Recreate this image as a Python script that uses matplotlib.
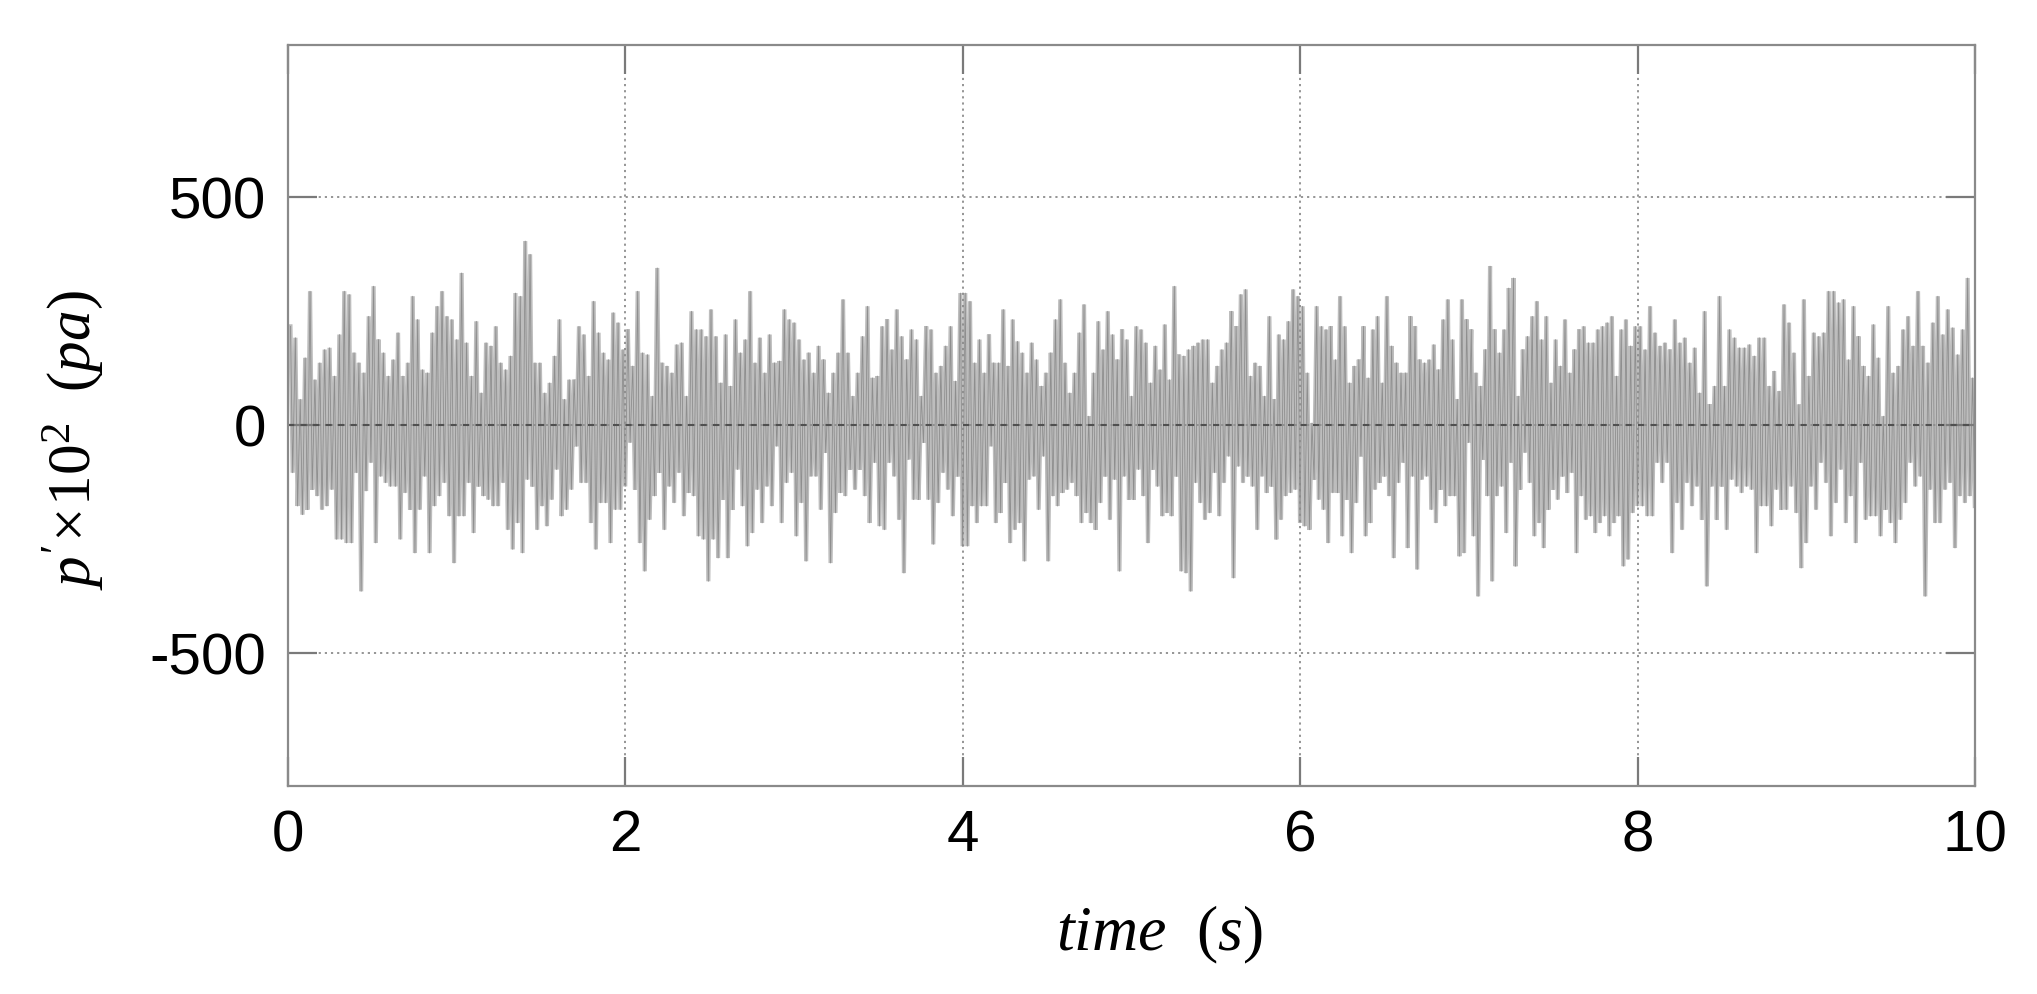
import matplotlib
matplotlib.use("Agg")
import matplotlib.pyplot as plt
import numpy as np

plt.rcParams["font.family"] = ["Liberation Sans", "DejaVu Sans"]
plt.rcParams["axes.unicode_minus"] = False
plt.rcParams["mathtext.fontset"] = "custom"
plt.rcParams["mathtext.rm"] = "Liberation Serif"
plt.rcParams["mathtext.it"] = "Liberation Serif:italic"

# peak / trough of each stroke, read per 2 s window (p' x 10^2, pa)
top_0_2 = [216, 191, 56, 147, 293, 99, 136, 165, 169, 107, 198, 293, 286, 158, 136, 114, 238, 304,
           187, 158, 107, 143, 202, 107, 136, 282, 231, 121, 114, 202, 260, 293, 238, 231, 187, 333,
           180, 107, 227, 70, 180, 173, 216, 136, 121, 151, 289, 282, 403, 374, 136, 136, 70, 92,
           151, 231, 56, 99, 99, 216, 198, 107, 271, 202, 158, 143, 246, 224, 165]
bot_0_2 = [-105, -178, -197, -186, -142, -156, -186, -178, -142, -251, -251, -259, -259, -105, -365,
           -145, -83, -259, -113, -127, -135, -135, -251, -149, -186, -281, -186, -113, -281, -178,
           -156, -127, -200, -303, -200, -200, -127, -237, -135, -156, -164, -178, -178, -127, -230,
           -273, -215, -281, -120, -135, -230, -178, -222, -164, -98, -200, -186, -142, -47, -127,
           -127, -215, -273, -171, -171, -259, -186, -186, -135]

top_2_4 = [209, 129, 293, 158, 154, 63, 344, 136, 129, 114, 176, 180, 63, 249, 209, 209, 194, 253,
           194, 92, 198, 85, 231, 158, 187, 293, 136, 191, 114, 198, 136, 140, 253, 231, 224, 187,
           143, 158, 114, 173, 143, 70, 114, 158, 275, 158, 63, 114, 194, 260, 103, 107, 216, 231,
           165, 253, 194, 143, 209, 187, 63, 216, 209, 114, 129, 173, 216, 96, 289]
bot_2_4 = [-39, -142, -259, -321, -208, -156, -105, -230, -135, -171, -105, -200, -149, -156, -244,
           -251, -343, -251, -292, -164, -292, -186, -98, -178, -266, -237, -142, -215, -135, -178,
           -47, -215, -127, -105, -244, -171, -299, -113, -113, -186, -61, -303, -193, -149, -156,
           -98, -142, -98, -156, -215, -83, -222, -230, -83, -113, -208, -325, -76, -164, -164, -39,
           -164, -262, -171, -105, -142, -200, -113, -266]

top_4_6 = [289, 271, 136, 187, 114, 198, 136, 136, 253, 129, 231, 183, 158, 114, 180, 143, 85, 114,
           158, 231, 275, 136, 70, 114, 202, 264, 19, 114, 227, 165, 249, 198, 143, 209, 187, 63,
           216, 209, 180, 92, 173, 121, 220, 99, 304, 154, 151, 165, 173, 180, 187, 187, 92, 129,
           165, 180, 249, 216, 286, 297, 107, 136, 129, 63, 238, 56, 198, 187, 227, 297, 282]
bot_4_6 = [-266, -178, -215, -178, -178, -47, -215, -193, -127, -259, -230, -215, -299, -120, -113,
           -186, -69, -299, -156, -178, -149, -142, -127, -156, -215, -193, -215, -230, -171, -113,
           -208, -120, -321, -113, -164, -164, -98, -156, -259, -98, -135, -200, -193, -200, -113,
           -321, -325, -365, -127, -171, -208, -193, -105, -200, -127, -69, -336, -91, -127, -113,
           -135, -230, -113, -149, -135, -251, -208, -156, -149, -142, -215]

top_6_8 = [260, 114, 4, 260, 216, 209, 216, 143, 282, 216, 92, 129, 143, 216, 103, 209, 238, 92,
           282, 173, 136, 114, 114, 238, 216, 143, 136, 143, 176, 121, 231, 275, 187, 56, 275, 231,
           209, 114, 85, 165, 348, 209, 158, 209, 300, 322, 63, 165, 194, 238, 271, 187, 238, 92,
           187, 129, 231, 114, 165, 209, 216, 180, 180, 209, 216, 224, 238, 107, 209, 231, 173, 216]
bot_6_8 = [-222, -230, -120, -164, -186, -259, -149, -149, -244, -164, -281, -171, -69, -244, -215,
           -142, -127, -113, -156, -292, -127, -83, -270, -113, -317, -120, -113, -186, -215, -142,
           -178, -156, -156, -288, -281, -39, -244, -376, -76, -156, -343, -156, -135, -237, -83,
           -310, -142, -61, -127, -244, -215, -270, -186, -142, -164, -113, -149, -105, -281, -156,
           -208, -200, -237, -215, -200, -244, -215, -200, -310, -295, -193, -178]

top_8_10 = [216, 165, 260, 202, 173, 180, 165, 231, 180, 191, 136, 169, 70, 249, 45, 85, 282, 85,
            209, 191, 169, 169, 176, 151, 191, 191, 85, 118, 74, 264, 224, 158, 45, 275, 107, 202,
            194, 202, 293, 293, 268, 275, 143, 260, 194, 129, 107, 220, 147, 19, 260, 114, 129, 209,
            238, 173, 293, 173, 136, 224, 282, 198, 253, 213, 154, 209, 322, 103]
bot_8_10 = [-178, -200, -200, -83, -127, -83, -281, -171, -230, -127, -178, -135, -208, -354, -135,
            -208, -135, -230, -120, -135, -149, -135, -142, -281, -178, -178, -222, -142, -186, -186,
            -135, -193, -314, -259, -135, -186, -83, -127, -244, -171, -98, -215, -156, -259, -83,
            -208, -200, -200, -244, -186, -215, -259, -208, -171, -83, -135, -113, -376, -142, -215,
            -215, -142, -127, -270, -156, -171, -156, -178]

windows = [(0, top_0_2, bot_0_2), (2, top_2_4, bot_2_4), (4, top_4_6, bot_4_6),
           (6, top_6_8, bot_6_8), (8, top_8_10, bot_8_10)]

t_all, p_all = [], []
for t0, tops, bots in windows:
    n = len(tops)
    step = 2.0 / n
    tc = t0 + (np.arange(n) + 0.5) * step
    t_all.append(np.column_stack([tc, tc + 0.45 * step]).ravel())
    p_all.append(np.column_stack([tops, bots]).ravel())
t_all = np.concatenate(t_all)
p_all = np.concatenate(p_all)

fig = plt.figure(figsize=(20.37, 9.95), dpi=100)
ax = fig.add_axes([0.1414, 0.209, 0.8282, 0.7448])

ax.plot(t_all, p_all, color="#bdbdbd", lw=3.0, zorder=2, solid_joinstyle="miter")
ax.plot(t_all, p_all, color="#8e8e8e", lw=0.6, zorder=2)

ax.set_xlim(0, 10)
ax.set_ylim(-792, 833)
ax.set_xticks([0, 2, 4, 6, 8, 10])
ax.set_yticks([-500, 0, 500])

ax.grid(True, color="#8c8c8c", lw=1.3, linestyle=(0, (1.2, 2.2)), zorder=3)
ax.axhline(0, color="#505050", lw=1.5, linestyle=(0, (3, 3)), zorder=3)
ax.set_axisbelow(False)

for s in ax.spines.values():
    s.set_color("#8a8a8a")
    s.set_linewidth(1.6)
    s.set_zorder(4)

ax.tick_params(direction="in", length=21, width=1.6, color="#7a7a7a",
               top=True, right=True, labelsize=42, pad=16)

fig.text(1160 / 2037, 1 - 935 / 995, r"$time\ \ (s)$", fontsize=46,
         ha="center", va="center")
fig.text(73 / 2037, 1 - 440 / 995, r"$p'\!\times\!\mathrm{10}^{2}\ \ (pa)$", fontsize=44,
         rotation=90, ha="center", va="center")

fig.savefig("out.png", dpi=100)
